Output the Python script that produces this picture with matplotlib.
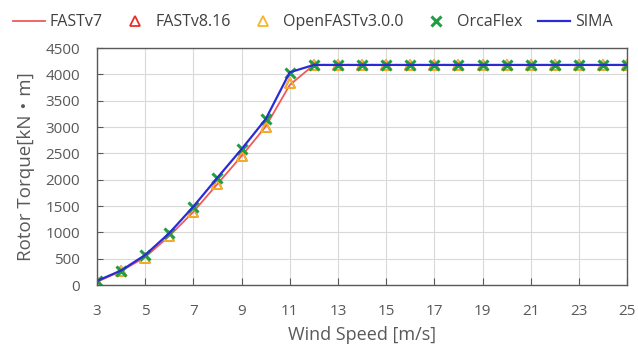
import matplotlib.pyplot as plt
import numpy as np

plt.rcParams['font.family'] = ['Open Sans', 'Noto Sans CJK JP', 'DejaVu Sans']

wind = [3, 4, 5, 6, 7, 8, 9, 10, 11, 12, 13, 14, 15, 16, 17, 18, 19, 20, 21, 22, 23, 24, 25]
rated = [4180] * 14
fast_v7 = [60, 265, 530, 930, 1390, 1920, 2450, 3010, 3800] + rated
fast_v816 = [60, 270, 510, 930, 1390, 1915, 2450, 3005, 3830] + rated
openfast = [55, 265, 505, 925, 1385, 1910, 2445, 3000, 3830] + rated
orcaflex = [75, 272, 565, 980, 1485, 2035, 2575, 3145, 4035] + rated
sima = [78, 275, 570, 985, 1490, 2040, 2580, 3150, 4040] + rated

fig = plt.figure(figsize=(6.38, 3.51), dpi=100)
ax = fig.add_axes([0.152, 0.188, 0.831, 0.675])

ax.plot(wind, fast_v7, color='#f05a5a', lw=1.3, label='FASTv7')
ax.plot(wind, fast_v816, ls='none', marker='^', mfc='none', mec='#e8302a',
        ms=7, mew=1.3, label='FASTv8.16')
ax.plot(wind, openfast, ls='none', marker='^', mfc='none', mec='#f5b62a',
        ms=7, mew=1.3, label='OpenFASTv3.0.0')
ax.plot(wind, orcaflex, ls='none', marker='x', color='#1f9e45',
        ms=7, mew=2.2, label='OrcaFlex')
ax.plot(wind, sima, color='#2b2bd6', lw=1.6, label='SIMA')

ax.set_xlim(3, 25)
ax.set_ylim(0, 4500)
ax.set_xticks(range(3, 26, 2))
ax.set_yticks(range(0, 4501, 500))
ax.grid(True, color='#d9d9d9', lw=0.8)
ax.set_axisbelow(True)
for s in ax.spines.values():
    s.set_color('#595959')
    s.set_linewidth(1.0)
ax.tick_params(axis='x', direction='in', length=5, color='#595959',
               labelsize=11, labelcolor='#595959', pad=14)
ax.tick_params(axis='y', direction='in', length=4, color='#595959',
               labelsize=11, labelcolor='#595959', pad=12)

ax.set_xlabel('Wind Speed [m/s]', fontsize=13, color='#595959', labelpad=5)
ax.set_ylabel('Rotor Torque[kN・m]', fontsize=13.5, color='#595959', labelpad=8)

fig.legend(loc='upper center', bbox_to_anchor=(0.49, 1.0), ncol=5, frameon=False,
           fontsize=11.5, handlelength=2.0, handletextpad=0.3, columnspacing=1.0,
           labelcolor='#404040')

fig.savefig('out.png', dpi=100)
